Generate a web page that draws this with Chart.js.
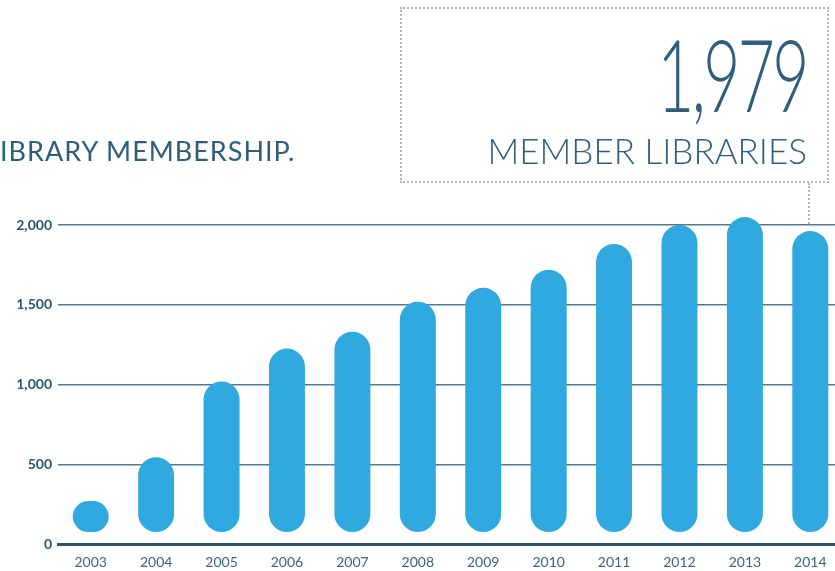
<!DOCTYPE html>
<html>
<head>
<meta charset="utf-8">
<script src="https://cdn.jsdelivr.net/npm/chart.js@4/dist/chart.umd.min.js"></script>
<style>
  html, body { margin: 0; padding: 0; background: #fff; overflow: hidden; width: 835px; height: 571px; }
  #wrap { position: relative; width: 835px; height: 571px; overflow: hidden; font-family: Lato, "Open Sans", sans-serif; color: #2f5d7c; }
  #myChart { position: absolute; left: 0; top: 0; }
  .titulo { position: absolute; left: 0; top: 134px; font-size: 27px; font-weight: 400; white-space: nowrap; letter-spacing: 1px; }
  .caixa { position: absolute; left: 400px; top: 7px; width: 425px; height: 172px; border: 2px dotted #a9bac6; }
  .numero { position: absolute; right: 20px; top: 14px; font-size: 100px; font-weight: 300; line-height: 100px; letter-spacing: -4px; transform: scaleX(0.64); transform-origin: right center; }
  .legenda { position: absolute; right: 20px; top: 121px; font-size: 35px; font-weight: 300; line-height: 40px; white-space: nowrap; }
  .ligacao { position: absolute; left: 808px; top: 183px; height: 41px; border-left: 2px dotted #a9bac6; }
</style>
</head>
<body>
<div id="wrap">
  <canvas id="myChart" width="843" height="571"></canvas>
  <div class="titulo">IBRARY MEMBERSHIP.</div>
  <div class="caixa">
    <div class="numero">1,979</div>
    <div class="legenda">MEMBER LIBRARIES</div>
  </div>
  <div class="ligacao"></div>
</div>
<script>
var anos = ['2003', '2004', '2005', '2006', '2007', '2008', '2009', '2010', '2011', '2012', '2013', '2014'];
var membros = [269, 544, 1019, 1225, 1331, 1519, 1606, 1719, 1881, 2000, 2050, 1962];
var ticksY = [0, 500, 1000, 1500, 2000];

function gerarGrafico() {
    const ctx = document.getElementById('myChart');

    new Chart(ctx, {
        type: 'bar',
        data: {
            labels: anos,
            datasets: [{
                label: 'Member libraries',
                data: membros,
                base: 75,
                backgroundColor: '#2fa9df',
                borderRadius: 18,
                borderSkipped: false,
                barPercentage: 0.55,
                categoryPercentage: 1,
                clip: false
            }]
        },
        options: {
            responsive: false,
            animation: false,
            layout: { padding: { top: 225, left: 0, right: 0, bottom: 0 } },
            plugins: {
                legend: { display: false },
                tooltip: { enabled: false }
            },
            scales: {
                x: {
                    grid: { display: false },
                    border: { display: true, color: '#2d5470', width: 3 },
                    ticks: {
                        color: '#3d6482',
                        font: { family: 'Lato', size: 14 },
                        padding: 2
                    },
                    afterFit: function (s) { s.height = 27; }
                },
                y: {
                    min: 0,
                    max: 2000,
                    afterBuildTicks: function (s) {
                        s.ticks = ticksY.map(function (v) { return { value: v }; });
                    },
                    grid: {
                        drawTicks: false,
                        lineWidth: 1.5,
                        color: function (c) { return c.tick && c.tick.value === 0 ? 'rgba(0,0,0,0)' : '#55798f'; }
                    },
                    border: { display: false },
                    ticks: {
                        color: '#2d5470',
                        font: { family: 'Lato', size: 14, weight: 'bold' },
                        padding: 6,
                        callback: function (v) { return Number(v).toLocaleString('en-US'); }
                    },
                    afterFit: function (s) { s.width = 58; }
                }
            }
        }
    });
}

gerarGrafico();
</script>
</body>
</html>
